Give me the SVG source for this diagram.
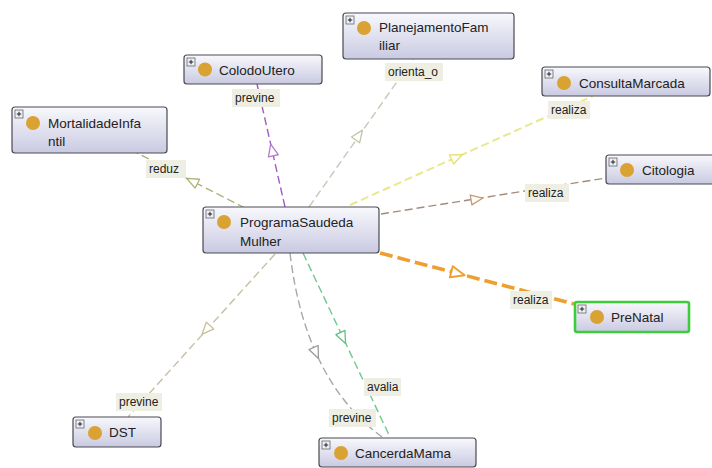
<svg xmlns="http://www.w3.org/2000/svg" xmlns:xlink="http://www.w3.org/1999/xlink" width="712" height="468" viewBox="0 0 712 468">
  <style>
    .box { fill: url(#boxFill); stroke: #4a4a52; stroke-width: 1.2; }
    .sel { fill: url(#boxFill); stroke: #3ccc3c; stroke-width: 2.6; }
    .dot { fill: #d9a232; }
    .exp { fill: #eef0f8; stroke: #666; stroke-width: 0.8; }
    .expPlus { stroke: #222; stroke-width: 1; }
    .name { font-family: "Liberation Sans", Arial, sans-serif; font-size: 13.5px; fill: #222; }
    .edge { fill: none; stroke-width: 1.4; stroke-dasharray: 8 4; }
    .edge.wide { stroke-width: 2; }
    .edge.bold { stroke-width: 3.6; stroke-dasharray: 13 5; }
    .lblBg { fill: #efeee2; }
    .lbl { font-family: "Liberation Sans", Arial, sans-serif; font-size: 12px; fill: #222; }
    .head { fill: #fff; stroke-width: 1.3; stroke-linejoin: round; }
    .head.bold { stroke-width: 1.7; }
  </style>
  <defs>
    <linearGradient id="boxFill" x1="0" y1="0" x2="0" y2="1">
      <stop offset="0" stop-color="#f8f8fd"/>
      <stop offset="1" stop-color="#c9cae1"/>
    </linearGradient>
    <!-- open triangular arrowhead, pointing along +x -->
    <path id="tri" d="M-6,-5 L6,0 L-6,5 Z"/>
    <!-- expand toggle in the top-left corner of each class box -->
    <g id="toggle">
      <rect class="exp" x="0" y="0" width="8" height="8"/>
      <path class="expPlus" d="M1.8,4 H6.2 M4,1.8 V6.2"/>
    </g>
  </defs>

  <rect width="712" height="468" fill="#ffffff"/>

  <g id="connectors">
    <!-- reduz -->
    <path class="edge" stroke="#b0b27c" d="M245,208 L137,153"/>
    <use xlink:href="#tri" class="head" stroke="#b0b27c" transform="translate(192,181) rotate(207)"/>
    <!-- previne: ColodoUtero -->
    <path class="edge" stroke="#a05cc0" d="M285,207 L257,84"/>
    <use xlink:href="#tri" class="head" stroke="#b878d8" transform="translate(272,150) rotate(-102.8)"/>
    <!-- orienta_o -->
    <path class="edge" stroke="#c8c8b8" d="M309,207 L413,59"/>
    <use xlink:href="#tri" class="head" stroke="#c4c4a8" transform="translate(359,135) rotate(-54.9)"/>
    <!-- realiza: ConsultaMarcada -->
    <path class="edge wide" stroke="#e8e88c" d="M350,205 L593,96"/>
    <use xlink:href="#tri" class="head" stroke="#e4e070" transform="translate(457,157) rotate(-24.2)"/>
    <!-- realiza: Citologia -->
    <path class="edge" stroke="#a48c7c" d="M381,214 L606,178"/>
    <use xlink:href="#tri" class="head" stroke="#c89a70" transform="translate(477,199) rotate(-9.1)"/>
    <!-- realiza: PreNatal (selected, highlighted) -->
    <path class="edge bold" stroke="#eda030" d="M380,253 L574,304"/>
    <use xlink:href="#tri" class="head bold" stroke="#eda030" transform="translate(458,273.5) rotate(14.7) scale(1.15)"/>
    <!-- previne: DST -->
    <path class="edge" stroke="#c8bfa0" d="M275,254 L128,417"/>
    <use xlink:href="#tri" class="head" stroke="#c8bf98" transform="translate(206,330) rotate(132)"/>
    <!-- previne: CancerdaMama (curved) -->
    <path class="edge" stroke="#a8a8a8" d="M290,253 Q305,380 382,437"/>
    <use xlink:href="#tri" class="head" stroke="#999" transform="translate(316,353) rotate(65.8)"/>
    <!-- avalia -->
    <path class="edge" stroke="#70c890" d="M303,253 L390,437"/>
    <use xlink:href="#tri" class="head" stroke="#60c080" transform="translate(343,338) rotate(64.7)"/>

    <!-- edge labels -->
    <rect class="lblBg" x="146" y="160" width="40" height="18"/>
    <text class="lbl" x="149" y="173">reduz</text>
    <rect class="lblBg" x="232" y="89" width="48" height="18"/>
    <text class="lbl" x="235" y="102">previne</text>
    <rect class="lblBg" x="385" y="63" width="58" height="18"/>
    <text class="lbl" x="388" y="76">orienta_o</text>
    <rect class="lblBg" x="548" y="101" width="42" height="18"/>
    <text class="lbl" x="551" y="114">realiza</text>
    <rect class="lblBg" x="525" y="184" width="44" height="18"/>
    <text class="lbl" x="528" y="197">realiza</text>
    <rect class="lblBg" x="510" y="291" width="42" height="18"/>
    <text class="lbl" x="513" y="304">realiza</text>
    <rect class="lblBg" x="116" y="393" width="46" height="18"/>
    <text class="lbl" x="119" y="406">previne</text>
    <rect class="lblBg" x="364" y="378" width="37" height="18"/>
    <text class="lbl" x="367" y="391">avalia</text>
    <rect class="lblBg" x="329" y="409" width="47" height="18"/>
    <text class="lbl" x="332" y="422">previne</text>
  </g>

  <g id="MortalidadeInfantil">
    <rect class="box" x="12" y="107" width="155" height="46" rx="3"/>
    <use xlink:href="#toggle" x="15" y="110"/>
    <circle class="dot" cx="33" cy="123" r="7"/>
    <text class="name" x="48" y="128">MortalidadeInfa</text>
    <text class="name" x="48" y="146">ntil</text>
  </g>

  <g id="ColodoUtero">
    <rect class="box" x="184" y="55" width="138" height="29" rx="3"/>
    <use xlink:href="#toggle" x="187" y="58"/>
    <circle class="dot" cx="205" cy="69.5" r="7"/>
    <text class="name" x="219" y="75">ColodoUtero</text>
  </g>

  <g id="PlanejamentoFamiliar">
    <rect class="box" x="343" y="13" width="171" height="46" rx="3"/>
    <use xlink:href="#toggle" x="346" y="16"/>
    <circle class="dot" cx="364" cy="28" r="7"/>
    <text class="name" x="379" y="32">PlanejamentoFam</text>
    <text class="name" x="379" y="50">iliar</text>
  </g>

  <g id="ConsultaMarcada">
    <rect class="box" x="542" y="67" width="168" height="29" rx="3"/>
    <use xlink:href="#toggle" x="545" y="70"/>
    <circle class="dot" cx="564" cy="83" r="7"/>
    <text class="name" x="579" y="88">ConsultaMarcada</text>
  </g>

  <g id="Citologia">
    <rect class="box" x="606" y="155" width="112" height="29" rx="3"/>
    <use xlink:href="#toggle" x="609" y="158"/>
    <circle class="dot" cx="627" cy="170" r="7"/>
    <text class="name" x="642" y="175">Citologia</text>
  </g>

  <g id="ProgramaSaudedaMulher">
    <rect class="box" x="203" y="207" width="176" height="46" rx="3"/>
    <use xlink:href="#toggle" x="206" y="210"/>
    <circle class="dot" cx="224" cy="222" r="7"/>
    <text class="name" x="240" y="227">ProgramaSaudeda</text>
    <text class="name" x="240" y="246">Mulher</text>
  </g>

  <g id="PreNatal">
    <rect class="sel" x="575" y="302" width="114" height="30" rx="2"/>
    <use xlink:href="#toggle" x="578" y="305"/>
    <circle class="dot" cx="597" cy="317" r="7"/>
    <text class="name" x="611" y="322">PreNatal</text>
  </g>

  <g id="DST">
    <rect class="box" x="73" y="417" width="88" height="30" rx="3"/>
    <use xlink:href="#toggle" x="76" y="420"/>
    <circle class="dot" cx="95" cy="433" r="7"/>
    <text class="name" x="109" y="437">DST</text>
  </g>

  <g id="CancerdaMama">
    <rect class="box" x="319" y="438" width="157" height="29" rx="3"/>
    <use xlink:href="#toggle" x="322" y="441"/>
    <circle class="dot" cx="341" cy="453" r="7"/>
    <text class="name" x="355" y="458">CancerdaMama</text>
  </g>
</svg>
